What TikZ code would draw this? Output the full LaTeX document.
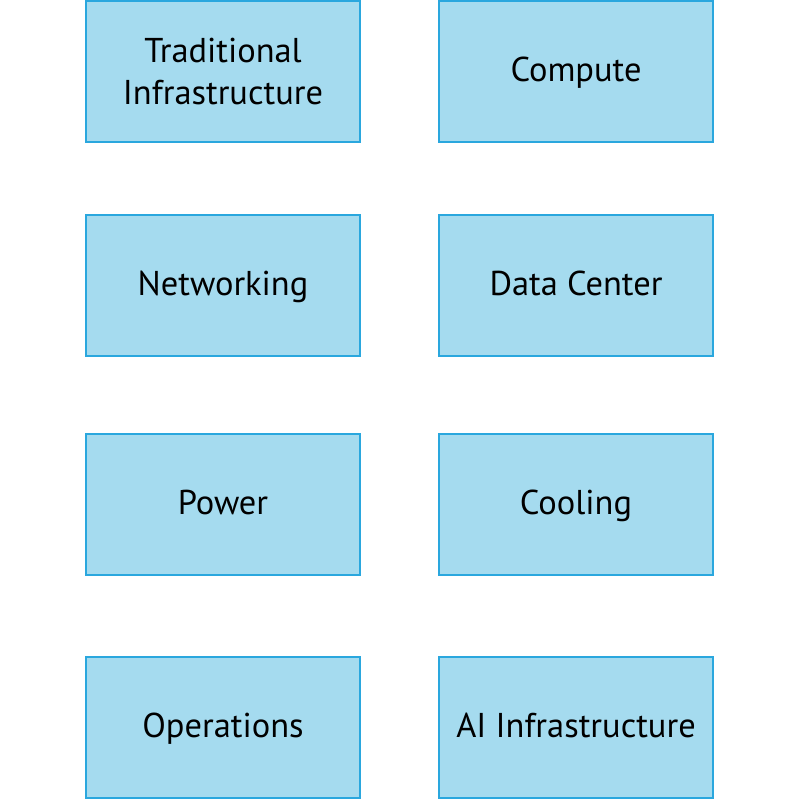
\documentclass[tikz,border=0pt]{standalone}
\usepackage{fontspec}
\setmainfont{PT Sans}
\definecolor{boxfill}{HTML}{A5DBEF}
\definecolor{boxline}{HTML}{2AA7DE}
\tikzset{
    box/.style={rectangle, draw=boxline, fill=boxfill, line width=1.1pt,
        minimum width=6.85cm, minimum height=3.525cm, align=center,
        font=\fontsize{24.5}{30}\selectfont},
    onebox/.style={box, text height=14.2pt, text depth=0pt},
}
\begin{document}
\begin{tikzpicture}[x=0.025cm, y=-0.025cm]
    \useasboundingbox (0,0) rectangle (800,800);
    \node[box] (trad) at (223,71.5) {Traditional\\Infrastructure};
    \node[onebox] (compute) at (576,71.5) {Compute};
    \node[onebox] (net) at (223,285.5) {Networking};
    \node[onebox] (dc) at (576,285.5) {Data Center};
    \node[onebox] (power) at (223,504.5) {Power};
    \node[onebox] (cool) at (576,504.5) {Cooling};
    \node[onebox] (ops) at (223,727.5) {Operations};
    \node[onebox] (ai) at (576,727.5) {AI Infrastructure};
\end{tikzpicture}
\end{document}
